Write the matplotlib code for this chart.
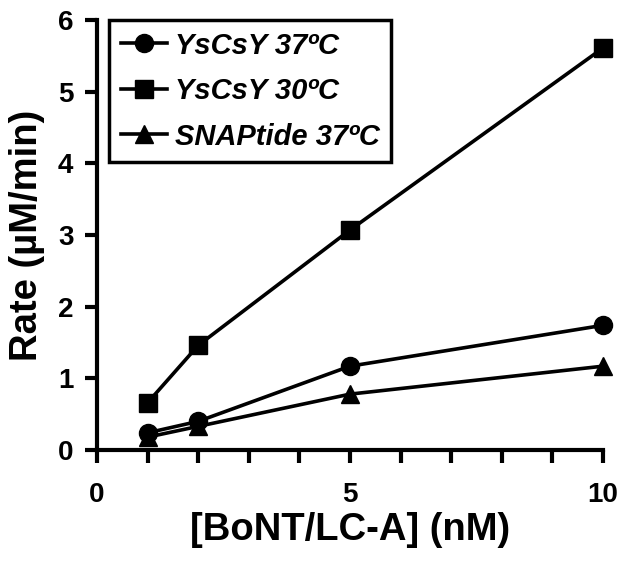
import matplotlib
matplotlib.use("Agg")
import matplotlib.pyplot as plt
from matplotlib.ticker import MultipleLocator

conc = [1, 2, 5, 10]
ysc37 = [0.24, 0.40, 1.17, 1.74]
ysc30 = [0.66, 1.46, 3.07, 5.61]
snap37 = [0.18, 0.33, 0.78, 1.17]
labels = ["YsCsY 37ºC", "YsCsY 30ºC", "SNAPtide 37ºC"]
xticks = [0, 5, 10]
yticks = [0, 1, 2, 3, 4, 5, 6]

plt.rcParams['font.family'] = ['Liberation Sans', 'DejaVu Sans']
plt.rcParams['font.weight'] = 'bold'

fig = plt.figure(figsize=(6.29, 5.67), dpi=100)
ax = fig.add_axes([0.1542, 0.2063, 0.8045, 0.7584])

kw = dict(color='black', lw=2.6, clip_on=False, zorder=3)
ax.plot(conc, ysc37, marker='o', ms=13, label=labels[0], **kw)
ax.plot(conc, ysc30, marker='s', ms=13, label=labels[1], **kw)
ax.plot(conc, snap37, marker='^', ms=13, label=labels[2], **kw)

ax.set_xlim(0, 10)
ax.set_ylim(0, 6)
ax.set_xticks(xticks)
ax.xaxis.set_minor_locator(MultipleLocator(1))
ax.set_yticks(yticks)
for s in ['top', 'right']:
    ax.spines[s].set_visible(False)
for s in ['left', 'bottom']:
    ax.spines[s].set_linewidth(3)
ax.tick_params(axis='both', which='both', direction='out', width=3, labelsize=20)
ax.tick_params(axis='x', which='major', length=9, pad=14)
ax.tick_params(axis='x', which='minor', length=9)
ax.tick_params(axis='y', which='major', length=9, pad=8)
for t in ax.get_xticklabels() + ax.get_yticklabels():
    t.set_fontweight('bold')

ax.set_xlabel("[BoNT/LC-A] (nM)", fontsize=27.5, fontweight='bold', labelpad=3)
ax.set_ylabel("Rate (µM/min)", fontsize=27.5, fontweight='bold', labelpad=9)

leg = ax.legend(loc='upper left', bbox_to_anchor=(0.024, 1.0), frameon=True, fancybox=False,
                edgecolor='black', framealpha=1,
                prop={'size': 21, 'weight': 'bold', 'style': 'italic'},
                handlelength=1.6, handletextpad=0.25, borderpad=0.4, labelspacing=0.6,
                borderaxespad=0)
leg.get_frame().set_linewidth(2.5)

fig.savefig("out.png", dpi=100)
